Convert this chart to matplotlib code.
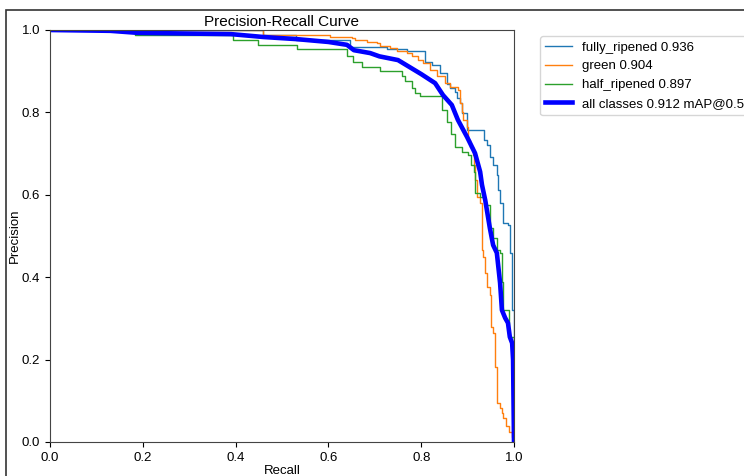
import matplotlib

matplotlib.use("Agg")
import matplotlib.pyplot as plt
from matplotlib.patches import Rectangle

plt.rcParams["font.family"] = ["Liberation Sans", "DejaVu Sans"]

# (recall, precision) step points
FULLY_RECALL = [0.0, 0.459, 0.53, 0.647, 0.726, 0.769, 0.808, 0.823, 0.841, 0.856, 0.862,
                0.873, 0.877, 0.884, 0.888, 0.899, 0.935, 0.942, 0.948, 0.955, 0.963,
                0.966, 0.970, 0.976, 0.987, 0.991, 0.996, 1.0]
FULLY_PRECISION = [1.0, 0.988, 0.976, 0.959, 0.954, 0.949, 0.922, 0.915, 0.896, 0.869, 0.859,
                   0.850, 0.835, 0.823, 0.799, 0.757, 0.733, 0.721, 0.692, 0.672, 0.648,
                   0.612, 0.580, 0.532, 0.527, 0.459, 0.320, 0.0]

GREEN_RECALL = [0.0, 0.459, 0.603, 0.651, 0.657, 0.683, 0.705, 0.711, 0.733, 0.748, 0.769,
                0.780, 0.793, 0.804, 0.819, 0.834, 0.851, 0.862, 0.879, 0.884, 0.888,
                0.890, 0.899, 0.901, 0.905, 0.912, 0.914, 0.916, 0.920, 0.927, 0.931,
                0.932, 0.933, 0.938, 0.942, 0.948, 0.950, 0.955, 0.959, 0.963, 0.970,
                0.974, 0.976, 0.983, 0.990, 0.996, 1.0]
GREEN_PRECISION = [1.0, 0.988, 0.983, 0.981, 0.976, 0.971, 0.968, 0.961, 0.956, 0.949, 0.944,
                   0.937, 0.927, 0.920, 0.903, 0.888, 0.871, 0.862, 0.854, 0.823, 0.801,
                   0.782, 0.765, 0.733, 0.716, 0.697, 0.672, 0.636, 0.595, 0.580, 0.532,
                   0.466, 0.449, 0.410, 0.376, 0.357, 0.279, 0.265, 0.182, 0.095, 0.083,
                   0.070, 0.058, 0.040, 0.025, 0.012, 0.0]

HALF_RECALL = [0.0, 0.183, 0.394, 0.448, 0.532, 0.640, 0.653, 0.672, 0.711, 0.759, 0.765,
               0.780, 0.787, 0.797, 0.845, 0.856, 0.864, 0.873, 0.888, 0.901, 0.907,
               0.914, 0.916, 0.927, 0.938, 0.948, 0.955, 0.963, 0.970, 0.974, 0.976,
               0.990, 1.0]
HALF_PRECISION = [1.0, 0.988, 0.976, 0.964, 0.954, 0.937, 0.922, 0.910, 0.900, 0.888, 0.876,
                  0.859, 0.847, 0.840, 0.806, 0.777, 0.748, 0.716, 0.704, 0.697, 0.672,
                  0.655, 0.604, 0.595, 0.575, 0.519, 0.495, 0.466, 0.459, 0.388, 0.320,
                  0.255, 0.0]

ALL_RECALL = [0.0, 0.13, 0.19, 0.39, 0.46, 0.53, 0.60, 0.64, 0.655, 0.69, 0.71, 0.75,
              0.775, 0.80, 0.83, 0.847, 0.866, 0.879, 0.899, 0.916, 0.927, 0.931, 0.938,
              0.948, 0.955, 0.963, 0.970, 0.974, 0.981, 0.987, 0.991, 0.996, 0.998, 1.0]
ALL_PRECISION = [1.0, 0.998, 0.993, 0.990, 0.983, 0.978, 0.971, 0.964, 0.951, 0.944, 0.936,
                 0.927, 0.910, 0.893, 0.871, 0.842, 0.818, 0.782, 0.740, 0.701, 0.656,
                 0.624, 0.587, 0.519, 0.478, 0.459, 0.386, 0.320, 0.301, 0.289, 0.255,
                 0.240, 0.200, 0.0]

LABELS = ["fully_ripened 0.936", "green 0.904", "half_ripened 0.897", "all classes 0.912 mAP@0.5"]

fig = plt.figure(figsize=(7.44, 4.76), dpi=100)
ax = fig.add_axes([50 / 744, 34 / 476, 464 / 744, 412 / 476])

ax.plot(FULLY_RECALL, FULLY_PRECISION, drawstyle="steps-post", color="#1f77b4", linewidth=1, label=LABELS[0])
ax.plot(GREEN_RECALL, GREEN_PRECISION, drawstyle="steps-post", color="#ff7f0e", linewidth=1, label=LABELS[1])
ax.plot(HALF_RECALL, HALF_PRECISION, drawstyle="steps-post", color="#2ca02c", linewidth=1, label=LABELS[2])
ax.plot(ALL_RECALL, ALL_PRECISION, color="blue", linewidth=3.3, label=LABELS[3])

ax.set_xlim(0, 1)
ax.set_ylim(0, 1)
ax.set_xlabel("Recall", fontsize=9.5, labelpad=1)
ax.set_ylabel("Precision", fontsize=9.5, labelpad=1)
ax.set_title("Precision-Recall Curve", fontsize=11, pad=3)
ax.tick_params(labelsize=9.5)
for spine in ax.spines.values():
    spine.set_color("#444444")

fig.legend(loc="upper left", bbox_to_anchor=(540 / 744, 1 - 36 / 476), bbox_transform=fig.transFigure,
           borderaxespad=0, fontsize=9.5)

# outer frame of the original (cropped) figure
fig.patches.append(Rectangle((6 / 744, -0.1), 1.2, 1 - 10 / 476 + 0.1, transform=fig.transFigure,
                             fill=False, edgecolor="#333333", linewidth=1.2))

fig.savefig("out.png", dpi=100)
